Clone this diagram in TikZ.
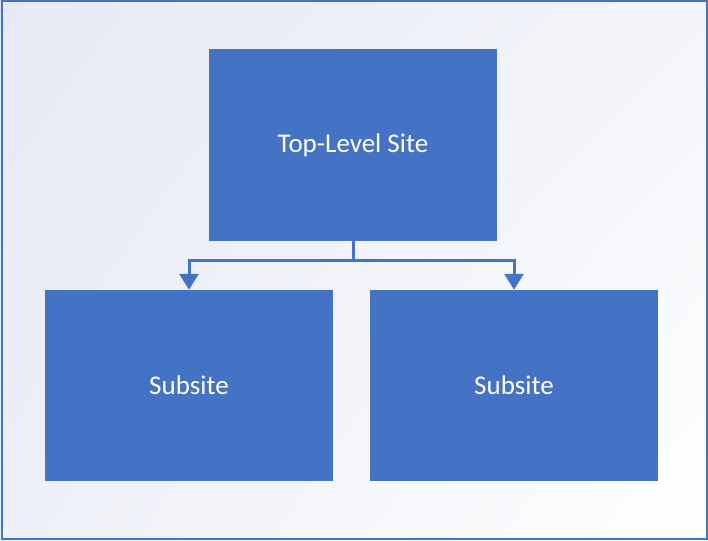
\documentclass[tikz,border=0pt]{standalone}
\usepackage{fontspec}
\setmainfont{Carlito}
\usetikzlibrary{arrows.meta,shadings}
\definecolor{siteblue}{HTML}{4472C4}
\definecolor{backlav}{HTML}{E6E9F4}

\begin{document}
\begin{tikzpicture}[x=1pt,y=1pt,
  site/.style={fill=siteblue,text=white,minimum width=288pt,minimum height=191pt,inner sep=0pt,font=\fontsize{27}{32}\selectfont},
  link/.style={draw=siteblue,line width=3pt},
  linkarrow/.style={link,-{Triangle[length=16pt,width=19pt]}}]
% Drawing background and frame
\useasboundingbox (0,0) rectangle (708,540);
\shade[upper left=backlav,upper right=white!55!backlav,lower left=white!30!backlav,lower right=white] (0,0) rectangle (708,540);
\draw[color=siteblue,line width=2pt] (1.5,1.5) rectangle (706.5,538.5);
% Drawing sites
\node[site,minimum height=192pt] (top) at (353,395) {Top-Level Site};
\node[site] (subl) at (189,154.5) {Subsite};
\node[site] (subr) at (514,154.5) {Subsite};
% Drawing connectors
\draw[link] (top.south) -- ++(0,-19) coordinate (split);
\draw[linkarrow] (split) -| (subl.north);
\draw[linkarrow] (split) -| (subr.north);
\end{tikzpicture}
\end{document}
